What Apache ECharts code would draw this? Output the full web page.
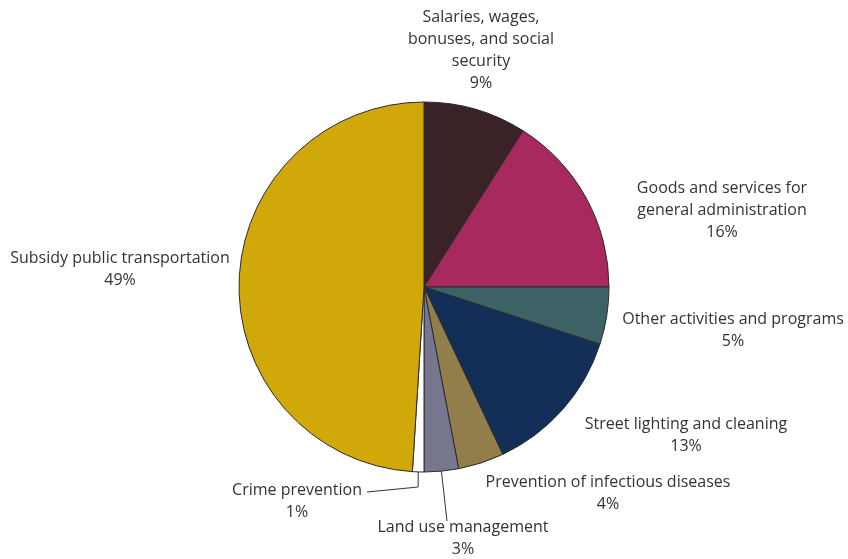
<!DOCTYPE html>
<html>
<head>
<meta charset="utf-8">
<script src="https://cdn.jsdelivr.net/npm/echarts@6/dist/echarts.min.js"></script>
<style>
  html, body { margin: 0; padding: 0; background: #fff; }
  #chart { width: 848px; height: 559px; }
</style>
</head>
<body>
<div id="chart"></div>
<script>
// Budget shares, clockwise from 12 o'clock
const categories = [
  'Salaries, wages,\nbonuses, and social\nsecurity',
  'Goods and services for\ngeneral administration',
  'Other activities and programs',
  'Street lighting and cleaning',
  'Prevention of infectious diseases',
  'Land use management',
  'Crime prevention',
  'Subsidy public transportation'
];
const shares = [9, 16, 5, 13, 4, 3, 1, 49];
const colors = ['#3a2227', '#a7295e', '#3c6265', '#142f57', '#927e4b', '#76768f', '#ffffff', '#d0a80a'];

// Label anchor points (text centre, first line top) for each slice
const labelSpots = [
  [481, 6], [722, 177], [733, 308], [686, 413],
  [608, 471], [463, 516], [297, 479], [120, 247]
];
// Leader lines for the two thin bottom slices: [elbow y or null, end x, end y]
const leaders = { 5: [null, 447, 521], 6: [487, 367, 492] };

const chart = echarts.init(document.getElementById('chart'), null, { renderer: 'canvas' });

chart.setOption({
  animation: false,
  series: [{
    type: 'pie',
    center: [424, 287],
    radius: 185,
    startAngle: 90,
    clockwise: true,
    avoidLabelOverlap: false,
    itemStyle: { borderColor: '#2b2b2b', borderWidth: 1 },
    label: {
      show: true,
      formatter: '{b}\n{d}%',
      fontFamily: '"Open Sans", "Noto Sans", sans-serif',
      fontSize: 16,
      lineHeight: 22,
      color: '#333333',
      align: 'center'
    },
    labelLine: { show: false, lineStyle: { color: '#333', width: 1 } },
    labelLayout: function (p) {
      const s = labelSpots[p.dataIndex];
      const out = { x: s[0], y: s[1], align: 'center', verticalAlign: 'top' };
      const ld = leaders[p.dataIndex];
      if (ld && p.labelLinePoints) {
        const a = p.labelLinePoints[0];
        const pts = [[a[0], a[1]]];
        if (ld[0] != null) pts.push([a[0], ld[0]]);
        pts.push([ld[1], ld[2]]);
        out.labelLinePoints = pts;
      }
      return out;
    },
    data: categories.map((c, i) => ({
      name: c,
      value: shares[i],
      itemStyle: { color: colors[i] },
      labelLine: { show: leaders[i] !== undefined, length: 10, length2: 10 }
    }))
  }]
});
</script>
</body>
</html>
